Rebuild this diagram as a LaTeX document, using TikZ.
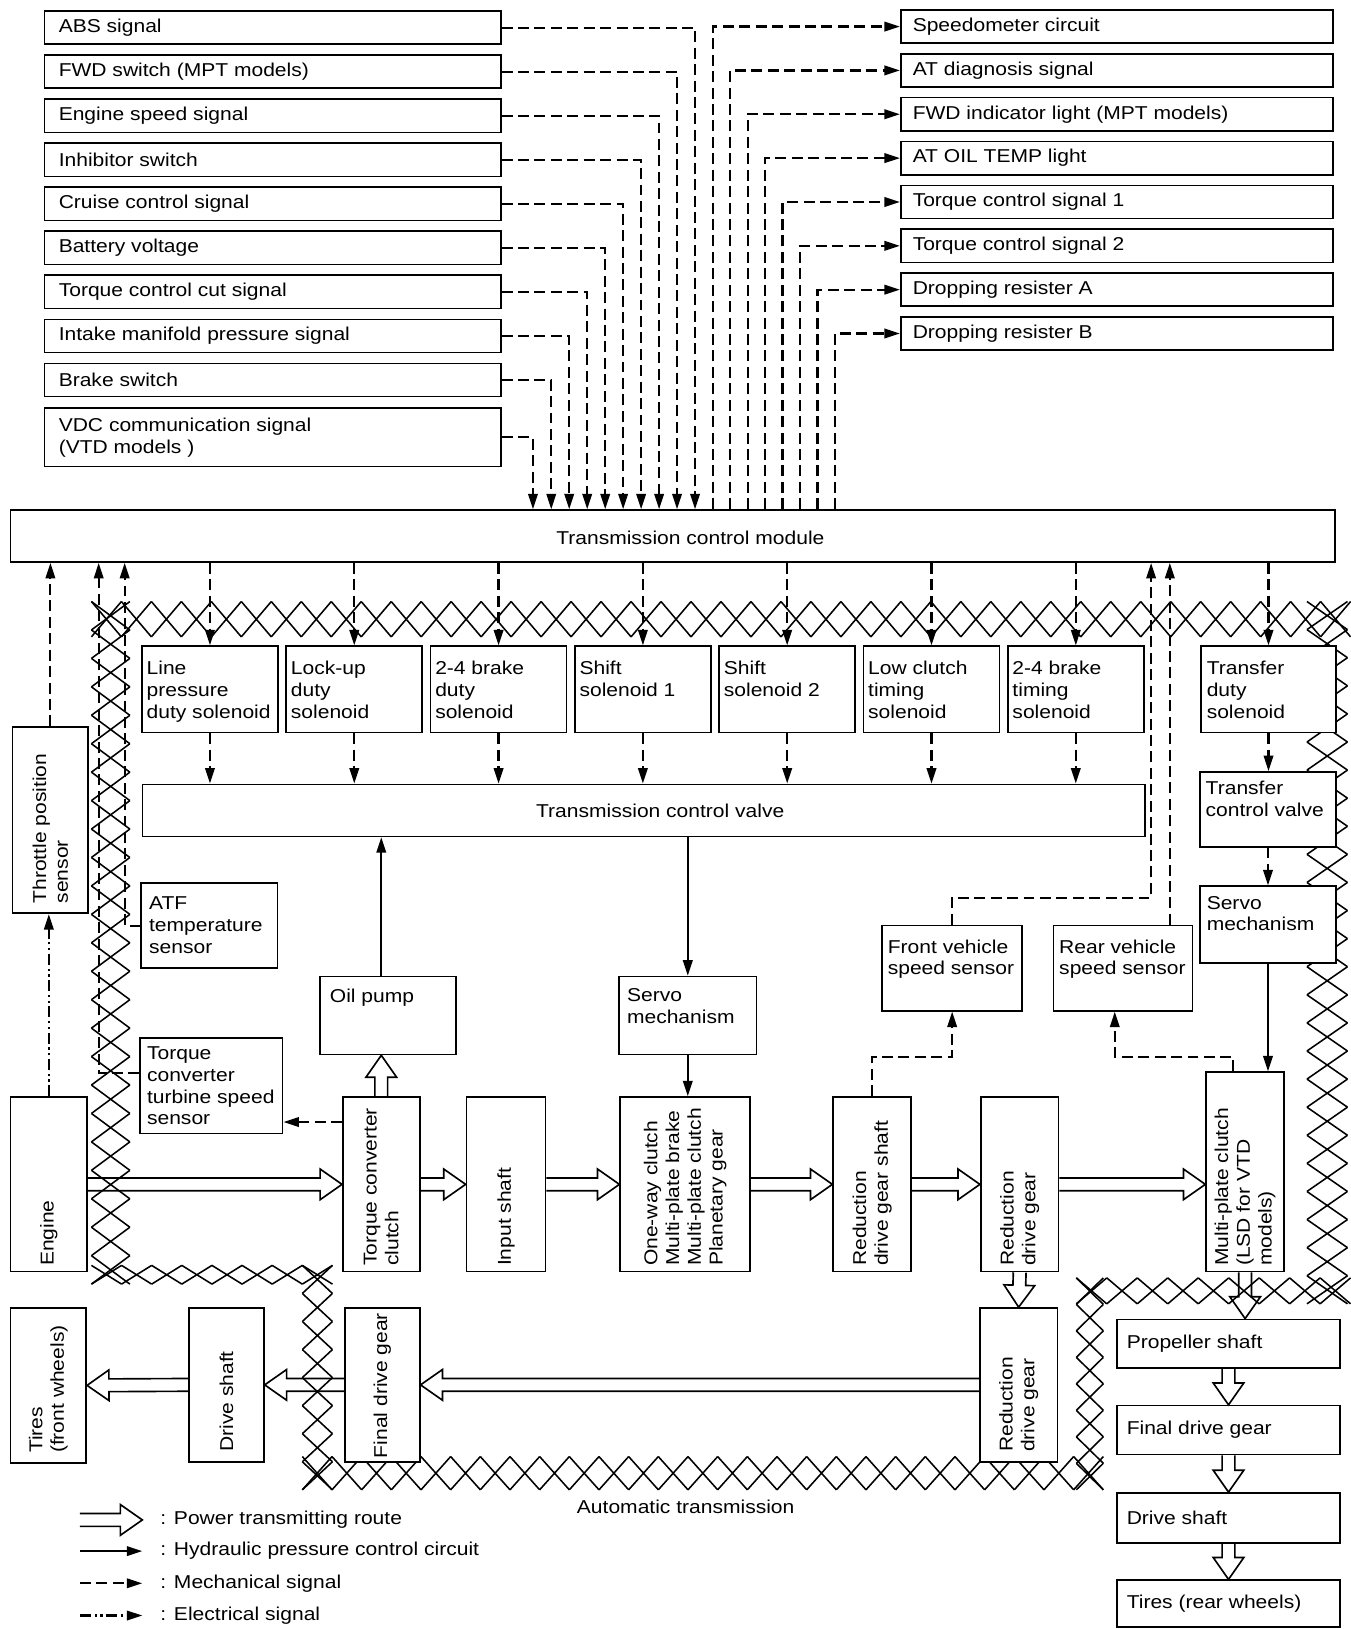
\documentclass[tikz,border=0pt]{standalone}
\usepackage{fontspec}
\setmainfont{Liberation Sans}[FakeStretch=1.13]
\usetikzlibrary{arrows.meta,fit,calc}

% row of crosses along a straight piece of the case outline
\newcommand{\hatchh}[4]{% x1,x2,y1,y2
  \pgfmathtruncatemacro\hn{max(1,round((#2-#1)/29))}%
  \pgfmathsetmacro\hs{(#2-#1)/\hn}%
  \foreach \k in {1,...,\hn}{%
    \draw[hatch] ({#1+(\k-1)*\hs},#3) -- ({#1+\k*\hs},#4)
                 ({#1+(\k-1)*\hs},#4) -- ({#1+\k*\hs},#3);}}
\newcommand{\hatchv}[4]{% y1,y2,x1,x2
  \pgfmathtruncatemacro\vn{max(1,round((#2-#1)/27))}%
  \pgfmathsetmacro\vs{(#2-#1)/\vn}%
  \foreach \k in {1,...,\vn}{%
    \draw[hatch] (#3,{#1+(\k-1)*\vs}) -- (#4,{#1+\k*\vs})
                 (#4,{#1+(\k-1)*\vs}) -- (#3,{#1+\k*\vs});}}

% hollow arrow for the power route
\newcommand{\powerarrow}[2]{%
  \draw[power] let \p1=(#1), \p2=(#2),
      \n1={atan2(\y2-\y1,\x2-\x1)}, \n2={veclen(\x2-\x1,\y2-\y1)} in
    [shift={(\p1)}, rotate=\n1]
    (0pt,3.5pt) -- ({\n2*1pt-12pt},3.5pt) -- ({\n2*1pt-12pt},8.4pt) -- ({\n2*1pt},0pt)
    -- ({\n2*1pt-12pt},-8.4pt) -- ({\n2*1pt-12pt},-3.5pt) -- (0pt,-3.5pt);}

\begin{document}
\begin{tikzpicture}[x=0.02cm, y=-0.02cm,
    font=\fontsize{10.2}{11.9}\selectfont,
    >={Triangle[length=8.5pt,width=5.2pt]},
    box/.style={draw, line width=0.9pt, fill=white, inner sep=0pt},
    txt/.style={inner sep=0pt, align=left},
    vtxt/.style={txt, rotate=90, anchor=west},
    mech/.style={->, line width=1.2pt, dash pattern=on 6pt off 3pt},
    hydr/.style={->, line width=1.2pt},
    elec/.style={->, line width=1.2pt, dash pattern=on 6pt off 2pt on 1.2pt off 2pt on 1.2pt off 2pt},
    power/.style={line width=0.9pt, line join=miter},
    hatch/.style={line width=0.85pt}
  ]
  \useasboundingbox (0,0) rectangle (1300,1568);

  % --- Transmission case outline ---
  \hatchh{88}{1300}{579}{613}
  \hatchv{579}{1236}{88}{125}
  \hatchh{88}{320}{1218}{1236}
  \hatchv{1218}{1434}{291}{320}
  \hatchh{291}{1062}{1402}{1434}
  \hatchv{1230}{1434}{1036}{1062}
  \hatchh{1036}{1300}{1230}{1255}
  \hatchv{579}{1255}{1258}{1297}

  % --- Transmission control module ---
  \node[box, fit={(10,491) (1285,541)}] (tcm) {};
  \node[txt] (tcm-t) at ([shift={(17,2)}]tcm.center) {Transmission control module};

  % --- Input signals ---
  \foreach \bx/\tx [count=\i from 0] in {abs/ABS signal, fwdsw/FWD switch (MPT models),
      engsp/Engine speed signal, inh/Inhibitor switch, cru/Cruise control signal,
      bat/Battery voltage, tcut/Torque control cut signal,
      imp/Intake manifold pressure signal, brk/Brake switch}{
    \pgfmathsetmacro\cx{669-17.3*\i}
    \node[box, fit={(43,{10.6+42.4*\i}) (482,{42.6+42.4*\i})}] (\bx) {};
    \node[txt, anchor=west] (\bx-t) at ([shift={(14,0)}]\bx.west) {\tx};
    \draw[mech] (\bx.east) -- (\cx,0 |- \bx.east) -- (\cx,0 |- tcm.north);
  }
  \node[box, fit={(43,393) (482,449)}] (vdc) {};
  \node[txt, anchor=west] (vdc-t) at ([shift={(14,0)}]vdc.west) {VDC communication signal\\(VTD models )};
  \draw[mech] (vdc.east) -- (513,0 |- vdc.east) -- (513,0 |- tcm.north);

  % --- Output signals ---
  \foreach \bx/\tx [count=\i from 0] in {spd/Speedometer circuit, diag/AT diagnosis signal,
      fwdind/FWD indicator light (MPT models), oiltemp/AT OIL TEMP light,
      tq1/Torque control signal 1, tq2/Torque control signal 2,
      dra/Dropping resister A, drb/Dropping resister B}{
    \pgfmathsetmacro\cx{686+16.8*\i}
    \node[box, fit={(867,{9.6+42.2*\i}) (1283,{41.6+42.2*\i})}] (\bx) {};
    \node[txt, anchor=west] (\bx-t) at ([shift={(12,0)}]\bx.west) {\tx};
    \draw[mech] (\cx,0 |- tcm.north) -- (\cx,0 |- \bx.west) -- (\bx.west);
  }

  % --- Solenoids and control valve ---
  \foreach \bx/\tx [count=\i from 0] in {lpd/{Line\\pressure\\duty solenoid},
      lud/{Lock-up\\duty\\solenoid}, bkd/{2-4 brake\\duty\\solenoid},
      ss1/{Shift\\solenoid 1}, ss2/{Shift\\solenoid 2},
      lct/{Low clutch\\timing\\solenoid}, bkt/{2-4 brake\\timing\\solenoid}}{
    \pgfmathsetmacro\sx{136.6+138.9*\i}
    \node[box, fit={(\sx,622) ({\sx+131},705)}] (\bx) {};
    \node[txt, anchor=north west] (\bx-t) at ([shift={(5,15)}]\bx.north west) {\tx};
  }
  \node[box, fit={(137,755) (1102,805)}] (tcv) {};
  \node[txt] (tcv-t) at ([shift={(16,0)}]tcv.center) {Transmission control valve};
  \foreach \bx in {lpd,lud,bkd,ss1,ss2,lct,bkt}{
    \draw[mech] (tcm.south -| \bx.north) -- (\bx.north);
    \draw[mech] (\bx.south) -- (tcv.north -| \bx.south);
  }

  % --- Transfer side ---
  \node[box, fit={(1156,622) (1286,705)}] (tfd) {};
  \node[txt, anchor=north west] (tfd-t) at ([shift={(6,15)}]tfd.north west) {Transfer\\duty\\solenoid};
  \node[box, fit={(1155,743) (1286,815)}] (tcvr) {};
  \node[txt, anchor=north west] (tcvr-t) at ([shift={(6,9)}]tcvr.north west) {Transfer\\control valve};
  \node[box, fit={(1155,853) (1286,927)}] (servor) {};
  \node[txt, anchor=north west] (servor-t) at ([shift={(7,10)}]servor.north west) {Servo\\mechanism};

  % --- Sensors ---
  \node[box, fit={(12,700) (85,879)}] (tps) {};
  \node[vtxt] (tps-t) at ([shift={(0,-10)}]tps.south) {Throttle position\\sensor};
  \node[box, fit={(136,850) (267,932)}] (atf) {};
  \node[txt, anchor=north west] (atf-t) at ([shift={(8,14)}]atf.north west) {ATF\\temperature\\sensor};
  \node[box, fit={(135,999) (272,1091)}] (tcts) {};
  \node[txt, anchor=north west] (tcts-t) at ([shift={(7,9)}]tcts.north west) {Torque\\converter\\turbine speed\\sensor};
  \node[box, fit={(849,891) (984,973)}] (front) {};
  \node[txt, anchor=north west] (front-t) at ([shift={(6,14)}]front.north west) {Front vehicle\\speed sensor};
  \node[box, fit={(1014,891) (1148,973)}] (rear) {};
  \node[txt, anchor=north west] (rear-t) at ([shift={(6,14)}]rear.north west) {Rear vehicle\\speed sensor};

  % --- Hydraulic parts ---
  \node[box, fit={(308,940) (439,1015)}] (pump) {};
  \node[txt, anchor=north west] (pump-t) at ([shift={(10,12)}]pump.north west) {Oil pump};
  \node[box, fit={(596,940) (728,1015)}] (servom) {};
  \node[txt, anchor=north west] (servom-t) at ([shift={(8,12)}]servom.north west) {Servo\\mechanism};

  % --- Power train ---
  \node[box, fit={(10,1056) (84,1224)}] (engine) {};
  \node[vtxt] (engine-t) at ([shift={(0,-6)}]engine.south) {Engine};
  \node[box, fit={(330,1056) (404,1224)}] (tcc) {};
  \node[vtxt] (tcc-t) at ([shift={(0,-6)}]tcc.south) {Torque converter\\clutch};
  \node[box, fit={(449,1056) (525,1224)}] (input) {};
  \node[vtxt] (input-t) at ([shift={(0,-6)}]input.south) {Input shaft};
  \node[box, fit={(597,1056) (722,1224)}] (oneway) {};
  \node[vtxt] (oneway-t) at ([shift={(0,-6)}]oneway.south) {One-way clutch\\Multi-plate brake\\Multi-plate clutch\\Planetary gear};
  \node[box, fit={(802,1056) (877,1224)}] (rdgs) {};
  \node[vtxt] (rdgs-t) at ([shift={(0,-6)}]rdgs.south) {Reduction\\drive gear shaft};
  \node[box, fit={(944,1056) (1019,1224)}] (rdga) {};
  \node[vtxt] (rdga-t) at ([shift={(0,-6)}]rdga.south) {Reduction\\drive gear};
  \node[box, fit={(1161,1032) (1236,1224)}] (multi) {};
  \node[vtxt] (multi-t) at ([shift={(0,-6)}]multi.south) {Multi-plate clutch\\(LSD for VTD\\models)};
  \node[box, fit={(943,1259) (1018,1407)}] (rdgb) {};
  \node[vtxt] (rdgb-t) at ([shift={(0,-10)}]rdgb.south) {Reduction\\drive gear};
  \node[box, fit={(332,1259) (404,1407)}] (fdg) {};
  \node[vtxt] (fdg-t) at ([shift={(0,-4)}]fdg.south) {Final drive gear};
  \node[box, fit={(182,1259) (254,1407)}] (dsl) {};
  \node[vtxt] (dsl-t) at ([shift={(0,-10)}]dsl.south) {Drive shaft};
  \node[box, fit={(10,1259) (83,1408)}] (tiresf) {};
  \node[vtxt] (tiresf-t) at ([shift={(0,-10)}]tiresf.south) {Tires\\(front wheels)};
  \node[box, fit={(1075,1270) (1290,1317)}] (prop) {};
  \node[txt, anchor=west] (prop-t) at ([shift={(10,0)}]prop.west) {Propeller shaft};
  \node[box, fit={(1075,1353) (1290,1400)}] (fdgr) {};
  \node[txt, anchor=west] (fdgr-t) at ([shift={(10,0)}]fdgr.west) {Final drive gear};
  \node[box, fit={(1075,1437) (1290,1485)}] (dsr) {};
  \node[txt, anchor=west] (dsr-t) at ([shift={(10,0)}]dsr.west) {Drive shaft};
  \node[box, fit={(1075,1521) (1290,1566)}] (tiresr) {};
  \node[txt, anchor=west] (tiresr-t) at ([shift={(10,0)}]tiresr.west) {Tires (rear wheels)};

  % --- Power transmitting route ---
  \powerarrow{engine.east}{tcc.west}
  \powerarrow{tcc.east}{input.west}
  \powerarrow{input.east}{oneway.west}
  \powerarrow{oneway.east}{rdgs.west}
  \powerarrow{rdgs.east}{rdga.west}
  \powerarrow{rdga.east}{multi.west |- rdga.east}
  \powerarrow{tcc.north}{tcc.north |- pump.south}
  \powerarrow{rdga.south}{rdgb.north}
  \powerarrow{multi.south}{multi.south |- prop.north}
  \powerarrow{prop.south}{fdgr.north}
  \powerarrow{fdgr.south}{dsr.north}
  \powerarrow{dsr.south}{tiresr.north}
  \powerarrow{rdgb.west}{fdg.east}
  \powerarrow{fdg.west}{dsl.east}
  \powerarrow{dsl.west}{tiresf.east}

  % --- Hydraulic circuit ---
  \draw[hydr] (tcc.north |- pump.north) -- (tcc.north |- tcv.south);
  \draw[hydr] (tcv.south -| servom.north) -- (servom.north);
  \draw[hydr] (servom.south) -- (servom.south |- oneway.north);
  \draw[hydr] (servor.south) -- (servor.south |- multi.north);

  % --- Mechanical signals ---
  \draw[mech] (tcm.south -| tfd.north) -- (tfd.north);
  \draw[mech] (tfd.south) -- (tfd.south |- tcvr.north);
  \draw[mech] (tcvr.south) -- (tcvr.south |- servor.north);
  \draw[mech] (tcc.west |- 0,1080) -- (tcts.east |- 0,1080);
  \draw[mech] (tcts.west |- 0,1033) -| (95,0 |- tcm.south);
  \draw[mech] (atf.west) -| (120,0 |- tcm.south);
  \draw[mech] (tps.north) -- (tps.north |- tcm.south);
  \draw[mech] (rdgs.north) -- ++(0,-38) -| (front.south);
  \draw[mech] ([xshift=-0.23cm]multi.north) -- ++(0,-14) -| ([xshift=-0.16cm]rear.south);
  \draw[mech] (front.north) |- (1108,864) -- (1108,0 |- tcm.south);
  \draw[mech] ([xshift=0.9cm]rear.north) -- ([xshift=0.9cm]rear.north |- tcm.south);

  % --- Electrical signal ---
  \draw[elec] (engine.north) -- (engine.north |- tps.south);

  \node[txt] (case-t) at (660,1450) {Automatic transmission};

  % --- Legend ---
  \foreach \i/\y in {1/1463,2/1493,3/1524,4/1555}{
    \coordinate (lgA\i) at (77,\y);
    \coordinate (lgB\i) at (137,\y);
  }
  \powerarrow{lgA1}{lgB1}
  \draw[hydr] (lgA2) -- (lgB2);
  \draw[mech] (lgA3) -- (lgB3);
  \draw[elec] (lgA4) -- (lgB4);
  \node[txt, anchor=west] (lgT1) at (154,1463) {: Power transmitting route};
  \node[txt, anchor=west] (lgT2) at (154,1493) {: Hydraulic pressure control circuit};
  \node[txt, anchor=west] (lgT3) at (154,1524) {: Mechanical signal};
  \node[txt, anchor=west] (lgT4) at (154,1555) {: Electrical signal};

\end{tikzpicture}
\end{document}
